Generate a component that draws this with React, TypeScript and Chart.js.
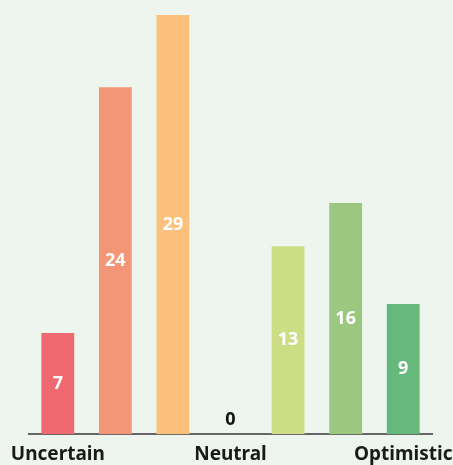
import React, { useEffect, useRef } from "react";
import { Chart, registerables } from "chart.js";

Chart.register(...registerables);

const categories = ["Uncertain", "", "", "Neutral", "", "", "Optimistic"];
const values = [7, 24, 29, 0, 13, 16, 9];
const barColors = ["#EE6970", "#F39577", "#FBC07C", "#B8C99A", "#CDDD84", "#9AC87F", "#66B97A"];

const FONT = "'Noto Sans', 'DejaVu Sans', sans-serif";

const valueLabels = {
  id: "valueLabels",
  afterDatasetsDraw(chart: any) {
    const ctx = chart.ctx;
    const meta = chart.getDatasetMeta(0);
    ctx.save();
    ctx.font = `bold 18px ${FONT}`;
    ctx.textAlign = "center";
    ctx.textBaseline = "middle";
    meta.data.forEach((bar: any, i: number) => {
      const v = values[i];
      const { x, y, base } = bar.getProps(["x", "y", "base"], true);
      if (v === 0) {
        ctx.fillStyle = "#111";
        ctx.fillText(String(v), x, base - 14);
      } else {
        ctx.fillStyle = "#ffffff";
        ctx.fillText(String(v), x, (y + base) / 2);
      }
    });
    ctx.restore();
  },
};

export default function App() {
  const ref = useRef<HTMLCanvasElement>(null);
  useEffect(() => {
    if (!ref.current) return;
    const chart = new Chart(ref.current, {
      type: "bar",
      data: {
        labels: categories,
        datasets: [
          {
            data: values,
            backgroundColor: barColors,
            barPercentage: 0.57,
            categoryPercentage: 1,
          },
        ],
      },
      options: {
        animation: false,
        responsive: false,
        layout: { padding: { top: 15, left: 29, right: 21, bottom: -10 } },
        plugins: { legend: { display: false }, tooltip: { enabled: false } },
        scales: {
          x: {
            grid: { display: false, drawTicks: false },
            border: { display: true, color: "#666666", width: 2 },
            afterFit: (scale: any) => {
              scale.paddingLeft = 0;
              scale.paddingRight = 0;
            },
            ticks: {
              color: "#1a1a1a",
              font: { family: FONT, size: 19, weight: "bold" },
              padding: 9,
              autoSkip: false,
              maxRotation: 0,
            },
          },
          y: {
            display: false,
            min: 0,
            max: 29,
          },
        },
      },
      plugins: [valueLabels],
    });
    return () => chart.destroy();
  }, []);
  return (
    <div style={{ position: "fixed", left: 0, top: 0, width: 453, height: 465, background: "#EEF5EE" }}>
      <canvas ref={ref} width={453} height={465} style={{ display: "block" }} />
    </div>
  );
}
